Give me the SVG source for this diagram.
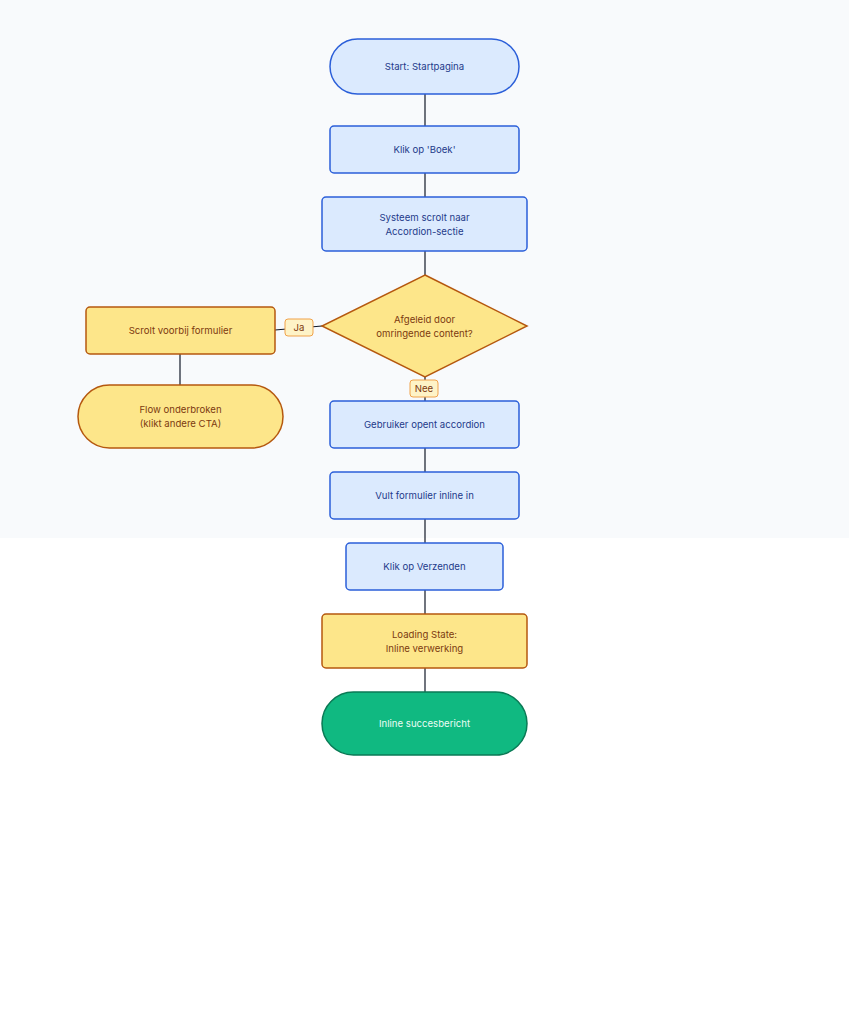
<svg xmlns="http://www.w3.org/2000/svg" width="849" height="1024" viewBox="0 0 849 1024">
<style>
.blue{fill:#dbeafe;stroke:#2b5fd9;stroke-width:1.5}
.yel{fill:#fde68a;stroke:#b5580f;stroke-width:1.5}
.grn{fill:#10b981;stroke:#0a7a55;stroke-width:1.5}
.lbl{fill:#fef3c7;stroke:#f0a24a;stroke-width:1}
text{font-family:Inter,"Liberation Sans",sans-serif;font-size:9.6px;text-anchor:middle}
.tb{fill:#1e3a8a}
.ty{fill:#7c3a10}
.tg{fill:#ecfdf5}
.edge{stroke:#111827;stroke-width:1.2;fill:none}
</style>
<rect x="0" y="0" width="849" height="538" fill="#f8fafc"/>
<g id="connectors">
<line class="edge" x1="425" y1="94" x2="425" y2="126"/>
<line class="edge" x1="425" y1="173" x2="425" y2="197"/>
<line class="edge" x1="425" y1="251" x2="425" y2="275"/>
<line class="edge" x1="322" y1="326" x2="275" y2="330"/>
<line class="edge" x1="180" y1="354" x2="180" y2="385"/>
<line class="edge" x1="425" y1="377" x2="425" y2="401"/>
<line class="edge" x1="425" y1="448" x2="425" y2="472"/>
<line class="edge" x1="425" y1="519" x2="425" y2="543"/>
<line class="edge" x1="425" y1="590" x2="425" y2="614"/>
<line class="edge" x1="425" y1="668" x2="425" y2="692"/>
<g id="label-ja"><rect class="lbl" x="285" y="319" width="28" height="17" rx="3"/><text class="ty" x="299" y="331">Ja</text></g>
<g id="label-nee"><rect class="lbl" x="410" y="380" width="28" height="17" rx="3"/><text class="ty" x="424" y="392">Nee</text></g>
</g>
<g id="start"><rect class="blue" x="330" y="39" width="189" height="55" rx="27.5"/><text class="tb" x="424.5" y="70">Start: Startpagina</text></g>
<g id="klik-boek"><rect class="blue" x="330" y="126" width="189" height="47" rx="4"/><text class="tb" x="424.5" y="153">Klik op 'Boek'</text></g>
<g id="systeem"><rect class="blue" x="322" y="197" width="205" height="54" rx="4"/><text class="tb" x="424.5" y="221">Systeem scrolt naar</text><text class="tb" x="424.5" y="235">Accordion-sectie</text></g>
<g id="afgeleid"><polygon class="yel" points="425,275 527,326 425,377 322,326"/><text class="ty" x="424.5" y="323">Afgeleid door</text><text class="ty" x="424.5" y="337">omringende content?</text></g>
<g id="scrolt"><rect class="yel" x="86" y="307" width="189" height="47" rx="4"/><text class="ty" x="180.5" y="334">Scrolt voorbij formulier</text></g>
<g id="flow"><rect class="yel" x="78" y="385" width="205" height="63" rx="31.5"/><text class="ty" x="180.5" y="413">Flow onderbroken</text><text class="ty" x="180.5" y="427">(klikt andere CTA)</text></g>
<g id="gebruiker"><rect class="blue" x="330" y="401" width="189" height="47" rx="4"/><text class="tb" x="424.5" y="428">Gebruiker opent accordion</text></g>
<g id="vult"><rect class="blue" x="330" y="472" width="189" height="47" rx="4"/><text class="tb" x="424.5" y="499">Vult formulier inline in</text></g>
<g id="verzenden"><rect class="blue" x="346" y="543" width="157" height="47" rx="4"/><text class="tb" x="424.5" y="570">Klik op Verzenden</text></g>
<g id="loading"><rect class="yel" x="322" y="614" width="205" height="54" rx="4"/><text class="ty" x="424.5" y="638">Loading State:</text><text class="ty" x="424.5" y="652">Inline verwerking</text></g>
<g id="succes"><rect class="grn" x="322" y="692" width="205" height="63" rx="31.5"/><text class="tg" x="424.5" y="727">Inline succesbericht</text></g>
</svg>
